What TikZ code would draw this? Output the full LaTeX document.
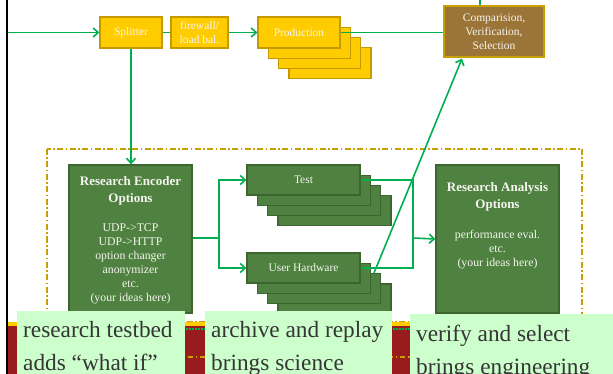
\documentclass[tikz,border=0pt]{standalone}
\usepackage{fontspec}
\setmainfont{Liberation Serif}
\usetikzlibrary{arrows.meta,calc}
\definecolor{gline}{HTML}{00B050}
\definecolor{goldf}{HTML}{FFCC00}
\definecolor{goldb}{HTML}{C49A00}
\definecolor{brownf}{HTML}{9B7438}
\definecolor{dgf}{HTML}{4F8140}
\definecolor{dgb}{HTML}{3C6530}
\definecolor{lgf}{HTML}{CCFFCC}
\definecolor{bandc}{HTML}{981B1E}
\definecolor{dashc}{HTML}{C8A000}
\definecolor{wtxt}{HTML}{F6F6F0}
\definecolor{btxt}{HTML}{353535}
\begin{document}
\begin{tikzpicture}[x=1pt,y=-1pt,
  ybox/.style={draw=goldb, fill=goldf, line width=1.2pt, text=wtxt,
    font=\fontsize{11.5}{14.5}\selectfont, align=center, inner sep=0pt},
  gbox/.style={draw=dgb, fill=dgf, line width=1.2pt, text=wtxt,
    font=\fontsize{11.5}{14}\selectfont, align=center, inner sep=0pt},
  cbox/.style={draw=dashc, fill=brownf, line width=1.2pt, text=wtxt,
    font=\fontsize{11.5}{14}\selectfont, align=center, inner sep=0pt},
  ttl/.style={text=wtxt, font=\fontsize{13}{16.5}\selectfont\bfseries, align=center, inner sep=0pt},
  bdy/.style={text=wtxt, font=\fontsize{11.8}{14}\selectfont, align=center, inner sep=0pt},
  lbox/.style={fill=lgf, inner sep=0pt, anchor=north west},
  ltxt/.style={text=btxt, font=\fontsize{23.3}{33}\selectfont, align=left, inner sep=0pt, anchor=north west},
  ln/.style={draw=gline, line width=1.6pt},
  arr/.style={ln, -{Straight Barb[length=5pt,width=9pt]}},
]
\clip (0,0) rectangle (613,374);
\fill[white] (0,0) rectangle (613,374);

% dash-dot frame
\draw[dashc, line width=1.2pt, dash pattern=on 6pt off 2.5pt on 1.5pt off 2.5pt]
  (47,149) rectangle (582,322);

% top row
\node[ybox, minimum width=62pt, minimum height=31pt] (split) at (131,32.5) {Splitter};
\node[ybox, minimum width=57pt, minimum height=31pt] (fw) at (199.5,32.5) {firewall/\\load bal.};
\foreach \i in {3,2,1}
  \node[ybox, minimum width=82pt, minimum height=31pt] (prod\i) at ($(299,32.5)+(10.3*\i,10.3*\i)$) {};
\node[ybox, minimum width=82pt, minimum height=31pt] (prod) at (299,32.5) {Production};
\node[cbox, minimum width=100pt, minimum height=51pt] (cmp) at (494,31.5) {Comparision,\\Verification,\\Selection};

% research area
\node[gbox, minimum width=123pt, minimum height=148pt] (enc) at (130.5,239) {};
\node[ttl, anchor=north] (enct) at ($(enc.north)+(0,12)$) {Research Encoder\\Options};
\node[bdy, anchor=north] (encb) at ($(enc.north)+(0,59)$) {UDP->TCP\\UDP->HTTP\\option changer\\anonymizer\\etc.\\(your ideas here)};

\foreach \i in {3,2,1}
  \node[gbox, minimum width=113pt, minimum height=30pt] (test\i) at ($(303.5,180)+(10.3*\i,10.3*\i)$) {};
\node[gbox, minimum width=113pt, minimum height=30pt] (test) at (303.5,180) {Test};
\foreach \i in {3,2,1}
  \node[gbox, minimum width=113pt, minimum height=30pt] (uh\i) at ($(303.5,268)+(10.3*\i,10.3*\i)$) {};
\node[gbox, minimum width=113pt, minimum height=30pt] (uh) at (303.5,268) {User Hardware};

\node[gbox, minimum width=123pt, minimum height=148pt] (ana) at (497.5,239) {};
\node[ttl, anchor=north] (anat) at ($(ana.north)+(0,18)$) {Research Analysis\\Options};
\node[bdy, anchor=north] (anab) at ($(ana.north)+(0,66)$) {performance eval.\\etc.\\(your ideas here)};

% connectors
\coordinate (lin) at (8,32.5);
\draw[arr] (lin) -- (split.west);
\draw[ln] (split.east) -- (fw.west);
\draw[arr] (fw.east) -- (prod.west);
\draw[ln] (prod.east) -- (prod.east -| cmp.west);
\coordinate (ctop) at (480,0);
\draw[ln] (ctop) -- (ctop |- cmp.north);
\draw[arr] (split.south) -- (split.south |- enc.north);
\coordinate (j1) at (219,238);
\draw[ln] (enc.east |- j1) -- (j1);
\draw[arr] (j1) |- (test.west);
\draw[arr] (j1) |- (uh.west);
\coordinate (j2) at (413,238);
\draw[ln] (test.east) -| (j2);
\draw[ln] (uh.east) -| (j2);
\draw[arr] (j2) -- (ana.west);
\coordinate (uhs) at (374,273);
\coordinate (cmpin) at ($(cmp.south)+(-32,1)$);
\draw[arr] (uhs) -- (cmpin);

% bottom band
\fill[goldf] (8,322) rectangle (613,326);
\fill[bandc] (8,326) rectangle (613,374);
\draw[gline, line width=1.5pt, dash pattern=on 1.5pt off 1.5pt] (150,329) -- (613,329);
\draw[dashc, line width=1.2pt, dash pattern=on 5pt off 3pt on 1.5pt off 3pt] (150,357) -- (613,357);
\draw[black, line width=2.5pt] (7,0) -- (7,374);

% bottom captions
\node[lbox, minimum width=168pt, minimum height=70pt] (b1) at (17,311) {};
\node[lbox, minimum width=187pt, minimum height=70pt] (b2) at (205,311) {};
\node[lbox, minimum width=210pt, minimum height=70pt] (b3) at (410,314) {};
\node[ltxt] (t1) at ($(b1.north west)+(6,10)$) {research testbed\\adds “what if”};
\node[ltxt] (t2) at ($(b2.north west)+(6,10)$) {archive and replay\\brings science};
\node[ltxt] (t3) at ($(b3.north west)+(6,11)$) {verify and select\\brings engineering};
\end{tikzpicture}
\end{document}
